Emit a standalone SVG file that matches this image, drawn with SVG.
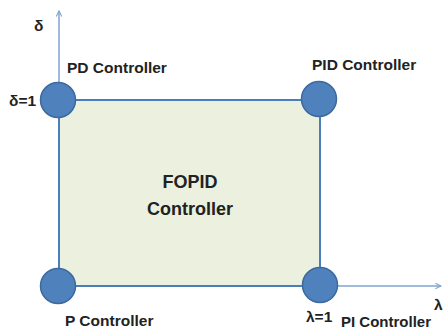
<svg xmlns="http://www.w3.org/2000/svg" width="443" height="329" viewBox="0 0 443 329">
<defs>
<marker id="arr" viewBox="0 0 10 10" refX="9" refY="5" markerWidth="7" markerHeight="7" orient="auto" markerUnits="userSpaceOnUse">
<path d="M1,1 L9,5 L1,9" fill="none" stroke="#7FA3CF" stroke-width="1.5"/>
</marker>
<style>
text{font-family:"Liberation Sans",Arial,sans-serif;font-weight:bold;fill:#222;font-size:15.5px}
.big{font-size:18px}
.node circle{fill:#4F81BD;stroke:#3C6AA0;stroke-width:1.5}
.axis{stroke:#7FA3CF;stroke-width:1.5;fill:none}
</style>
</defs>
<rect width="443" height="329" fill="#fff"/>
<g id="connectors">
<line class="axis" x1="59" y1="100" x2="59" y2="11" marker-end="url(#arr)"/>
<line class="axis" x1="320" y1="286" x2="441" y2="286" marker-end="url(#arr)"/>
</g>
<g id="fopid">
<rect x="59" y="100" width="261" height="186" fill="#EBF1DE" stroke="#4A7EBB" stroke-width="2"/>
<text class="big" x="190" y="188" text-anchor="middle">FOPID</text>
<text class="big" x="190" y="215" text-anchor="middle">Controller</text>
</g>
<g id="pd" class="node">
<circle cx="58" cy="100" r="17.5"/>
<text x="67" y="73">PD Controller</text>
<text x="9" y="106">δ=1</text>
<text x="34" y="31">δ</text>
</g>
<g id="pid" class="node">
<circle cx="319" cy="99" r="17.5"/>
<text x="312" y="70">PID Controller</text>
</g>
<g id="p" class="node">
<circle cx="58" cy="286" r="17.5"/>
<text x="65" y="326">P Controller</text>
</g>
<g id="pi" class="node">
<circle cx="320" cy="285" r="17.5"/>
<text x="306" y="322">λ=1</text>
<text x="341" y="327" style="font-size:15px">PI Controller</text>
<text x="434" y="310">λ</text>
</g>
</svg>
